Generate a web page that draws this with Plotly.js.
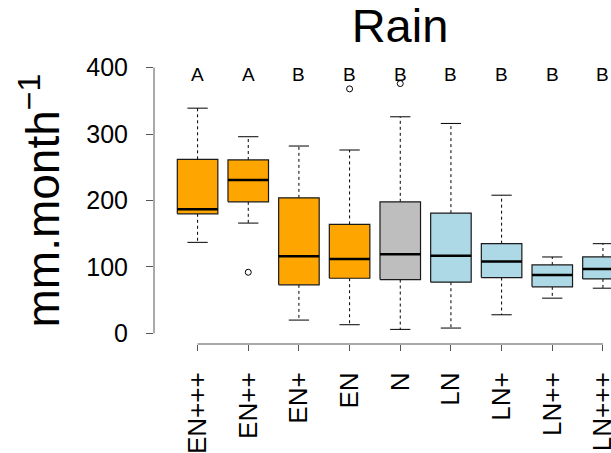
<!DOCTYPE html>
<html>
<head>
<meta charset="utf-8">
<script src="https://cdn.plot.ly/plotly-3.0.1.min.js"></script>
<style>
  html, body { margin: 0; padding: 0; background: #fff; overflow: hidden; }
  #chart { width: 611px; height: 453px; }
</style>
</head>
<body>
<div id="chart"></div>
<script>
// Monthly rain by ENSO phase class (mm per month)
const categories   = ['EN+++', 'EN++', 'EN+', 'EN', 'N', 'LN', 'LN+', 'LN++', 'LN+++'];
const phase        = ['EN', 'EN', 'EN', 'EN', 'N', 'LN', 'LN', 'LN', 'LN'];
const lowerWhisker = [137, 166, 20, 13, 6, 8, 28, 53, 68];
const q1           = [180, 198, 73, 83, 81, 77, 84, 70, 82];
const median       = [187, 231, 116, 112, 119, 117, 108, 88, 97];
const q3           = [262, 261, 204, 164, 198, 181, 135, 103, 115];
const upperWhisker = [339, 296, 282, 276, 326, 316, 208, 115, 135];
const outlierClass = ['EN++', 'EN', 'N'];
const outlierValue = [92, 368, 376];
const groupLetters = ['A', 'A', 'B', 'B', 'B', 'B', 'B', 'B', 'B'];
const yTicks       = [0, 100, 200, 300, 400];

const phaseColor = { EN: '#FFA500', N: '#BEBEBE', LN: '#ADD8E6' };
const FONT = 'Liberation Sans, Arial, Helvetica, sans-serif';
const HALF_BOX = 0.4, HALF_CAP = 0.2;
const pos = categories.map((_, i) => i + 1);

const traces = [];

// dashed whiskers
const wx = [], wy = [];
pos.forEach((p, i) => {
  wx.push(p, p, null, p, p, null);
  wy.push(q3[i], upperWhisker[i], null, q1[i], lowerWhisker[i], null);
});
traces.push({ type: 'scatter', mode: 'lines', x: wx, y: wy, hoverinfo: 'skip',
  line: { color: '#000', width: 1, dash: '3px,3px' }, showlegend: false });

// whisker caps
const cx = [], cy = [];
pos.forEach((p, i) => {
  cx.push(p - HALF_CAP, p + HALF_CAP, null, p - HALF_CAP, p + HALF_CAP, null);
  cy.push(upperWhisker[i], upperWhisker[i], null, lowerWhisker[i], lowerWhisker[i], null);
});
traces.push({ type: 'scatter', mode: 'lines', x: cx, y: cy, hoverinfo: 'skip',
  line: { color: '#000', width: 1 }, showlegend: false });

// boxes, one trace per phase colour
Object.keys(phaseColor).forEach(ph => {
  const bx = [], by = [];
  pos.forEach((p, i) => {
    if (phase[i] !== ph) return;
    bx.push(p - HALF_BOX, p + HALF_BOX, p + HALF_BOX, p - HALF_BOX, p - HALF_BOX, null);
    by.push(q1[i], q1[i], q3[i], q3[i], q1[i], null);
  });
  traces.push({ type: 'scatter', mode: 'lines', x: bx, y: by, fill: 'toself',
    fillcolor: phaseColor[ph], line: { color: '#1a1a1a', width: 1.2 },
    hoverinfo: 'skip', showlegend: false });
});

// medians
const mx = [], my = [];
pos.forEach((p, i) => {
  mx.push(p - HALF_BOX, p + HALF_BOX, null);
  my.push(median[i], median[i], null);
});
traces.push({ type: 'scatter', mode: 'lines', x: mx, y: my, hoverinfo: 'skip',
  line: { color: '#000', width: 2.5 }, showlegend: false });

// outliers
traces.push({ type: 'scatter', mode: 'markers',
  x: outlierClass.map(c => categories.indexOf(c) + 1), y: outlierValue,
  marker: { symbol: 'circle-open', size: 6, color: '#000', line: { width: 1 } },
  showlegend: false });

const annotations = groupLetters.map((t, i) => ({
  x: pos[i], y: 390, xref: 'x', yref: 'y', text: t, showarrow: false,
  xanchor: 'center', yanchor: 'middle', font: { family: FONT, size: 19, color: '#000' }
}));
annotations.push({
  x: 0, y: 200, xref: 'paper', yref: 'y', xanchor: 'center', yanchor: 'middle',
  xshift: -115, textangle: -90, showarrow: false,
  text: 'mm.month<sup>\u22121</sup>', font: { family: FONT, size: 46, color: '#000' }
});

const layout = {
  width: 611, height: 453,
  margin: { l: 154, r: 0, t: 57, b: 109 },
  paper_bgcolor: '#fff', plot_bgcolor: '#fff',
  font: { family: FONT, color: '#000' },
  title: { text: 'Rain', xref: 'container', x: 400 / 611, xanchor: 'center',
           yref: 'container', y: 1 - 26 / 453, yanchor: 'middle',
           font: { family: FONT, size: 47, color: '#000' } },
  xaxis: { range: [0.14, 0.14 + 457 / 50.67], tickmode: 'array', tickvals: pos,
           ticktext: categories, tickangle: -90, ticks: 'outside', ticklen: 6,
           tickcolor: '#555', showline: false, showgrid: false, zeroline: false,
           ticklabeloverflow: 'allow', ticklabelstandoff: 11,
           tickfont: { family: FONT, size: 26, color: '#000' } },
  yaxis: { range: [-16, 416], tickmode: 'array', tickvals: yTicks, ticks: 'outside',
           ticklen: 7, tickcolor: '#555', showline: false, showgrid: false, zeroline: false,
           ticklabelstandoff: 13, tickfont: { family: FONT, size: 25, color: '#000' } },
  shapes: [
    { type: 'line', xref: 'paper', yref: 'y', x0: 0, x1: 0, y0: yTicks[0], y1: yTicks[yTicks.length - 1],
      line: { color: '#555', width: 1 } },
    { type: 'line', xref: 'x', yref: 'paper', x0: pos[0], x1: pos[pos.length - 1], y0: 0, y1: 0,
      line: { color: '#555', width: 1 } }
  ],
  annotations: annotations
};

Plotly.newPlot('chart', traces, layout, { staticPlot: true, displayModeBar: false });
</script>
</body>
</html>
